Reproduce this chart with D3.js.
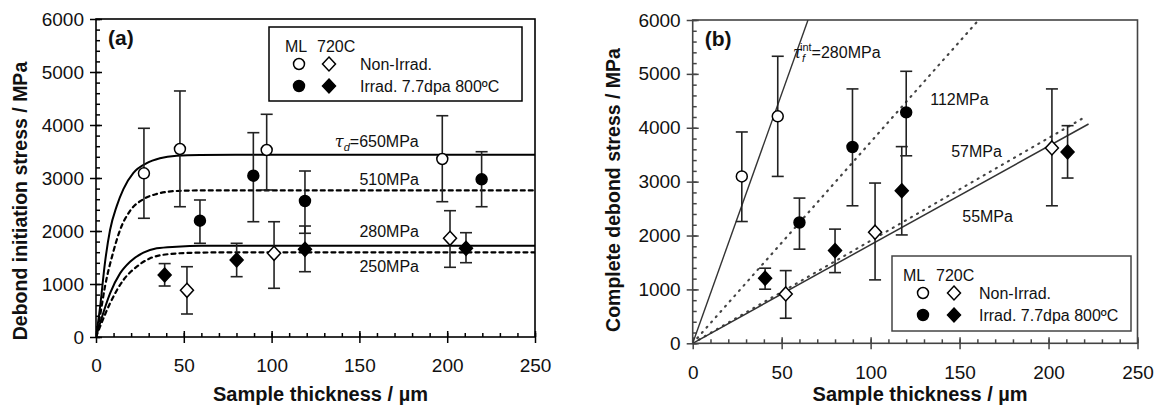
<!DOCTYPE html>
<html>
<head>
<meta charset="utf-8">
<script src="https://cdn.jsdelivr.net/npm/d3@7/dist/d3.min.js"></script>
<style>
body { margin: 0; background: #fff; }
text { font-family: "Liberation Sans", Arial, sans-serif; fill: #111; }
</style>
</head>
<body>
<div id="chart"></div>
<script>
/* two panels: debond initiation stress (a) and complete debond stress (b) vs sample thickness */

// data points: [thickness, stress, error low, error high]
var aNonIrradCircle = [[27.3, 3089, 2240, 3938], [47.8, 3547, 2458, 4642], [97.2, 3528, 2774, 4202], [197.2, 3358, 2553, 4175]];
var aIrradCircle = [[59.2, 2195, 1768, 2585], [89.6, 3043, 2175, 3855], [119, 2566, 1957, 3132], [219.6, 2975, 2458, 3496]];
var aNonIrradDiamond = [[51.8, 880, 434, 1326], [101.4, 1579, 919, 2175], [201.6, 1862, 1315, 2383]];
var aIrradDiamond = [[39.1, 1170, 962, 1385], [80.1, 1453, 1138, 1768], [119, 1655, 1232, 2094], [210.7, 1674, 1402, 1968]];

// model curves of panel (a): [thickness, stress]
var curve650 = [[0, 0], [2.3, 560], [5.1, 1400], [8, 2019], [11.8, 2470], [15.6, 2790], [21.3, 3095], [28.9, 3280], [36.4, 3372], [45.9, 3420], [59.2, 3435], [80, 3438], [250, 3438]];
var curve510 = [[0, 0], [2.3, 400], [5.1, 950], [9.8, 1600], [13.7, 2019], [19.4, 2380], [27, 2600], [34.6, 2700], [45.9, 2755], [60, 2765], [250, 2765]];
var curve280 = [[0, 0], [2.3, 258], [8, 825], [13.7, 1201], [19.4, 1421], [27, 1591], [34.6, 1673], [45.9, 1704], [60, 1720], [250, 1723]];
var curve250 = [[0, 0], [2.3, 195], [8, 636], [15.6, 1075], [23.2, 1327], [30.8, 1485], [42.2, 1566], [57.4, 1591], [80, 1598], [250, 1598]];

var bNonIrradCircle = [[27.6, 3097, 2260, 3922], [47.8, 4212, 3097, 5327]];
var bIrradCircle = [[60, 2242, 1747, 2695], [89.8, 3643, 2552, 4721], [120, 4286, 3480, 5048]];
var bNonIrradDiamond = [[52.3, 916, 465, 1349], [102.5, 2063, 1177, 2974], [201.9, 3625, 2552, 4721]];
var bIrradDiamond = [[40.7, 1208, 1004, 1394], [80, 1721, 1312, 2119], [117.5, 2831, 2011, 3650], [210.7, 3550, 3067, 4039]];

// straight fits of panel (b), from the origin
var line280 = [[0, 0], [64.8, 6000]];
var line112 = [[0, 0], [160.7, 6000]];
var line57 = [[0, 0], [220.8, 4206]];
var line55 = [[0, 0], [222.5, 4070]];

var xTicks = [0, 50, 100, 150, 200, 250];
var yTicks = [0, 1000, 2000, 3000, 4000, 5000, 6000];
var xMinor = d3.range(0, 251, 10);
var yMinor = d3.range(0, 6001, 200);

var svg = d3.select("#chart")
    .append("svg")
    .attr("width", 1161)
    .attr("height", 414);

function drawPanel(p) {
    var x = d3.scaleLinear().domain([0, 250]).range([p.left, p.right]);
    var y = d3.scaleLinear().domain([0, 6000]).range([p.bottom, p.top]);
    var g = svg.append("g");

    // minor ticks (inside)
    g.append("g")
        .attr("transform", "translate(0," + p.bottom + ")")
        .call(d3.axisBottom(x).tickValues(xMinor).tickSize(-4).tickFormat(""))
        .call(s => s.select(".domain").remove());
    g.append("g")
        .attr("transform", "translate(" + p.left + ",0)")
        .call(d3.axisLeft(y).tickValues(yMinor).tickSize(-4).tickFormat(""))
        .call(s => s.select(".domain").remove());
    // major ticks, inner half
    g.append("g")
        .attr("transform", "translate(0," + p.bottom + ")")
        .call(d3.axisBottom(x).tickValues(xTicks).tickSize(-6).tickFormat(""))
        .call(s => s.select(".domain").remove());
    g.append("g")
        .attr("transform", "translate(" + p.left + ",0)")
        .call(d3.axisLeft(y).tickValues(yTicks).tickSize(-6).tickFormat(""))
        .call(s => s.select(".domain").remove());
    // major ticks, outer half with labels
    var xa = g.append("g")
        .attr("transform", "translate(0," + p.bottom + ")")
        .call(d3.axisBottom(x).tickValues(xTicks).tickSize(6).tickPadding(16).tickFormat(d3.format("d")));
    var ya = g.append("g")
        .attr("transform", "translate(" + p.left + ",0)")
        .call(d3.axisLeft(y).tickValues(yTicks).tickSize(6).tickPadding(6).tickFormat(d3.format("d")));
    [xa, ya].forEach(function (a) {
        a.select(".domain").remove();
        a.selectAll("text").attr("font-size", 19).attr("font-family", "Liberation Sans, Arial, sans-serif").attr("fill", "#111");
    });
    g.selectAll(".tick line").attr("stroke", p.frame).attr("stroke-width", 1.5);

    // frame
    g.append("rect")
        .attr("x", p.left).attr("y", p.top)
        .attr("width", p.right - p.left).attr("height", p.bottom - p.top)
        .attr("fill", "none").attr("stroke", p.frame).attr("stroke-width", 1.6);

    // fitted curves / lines
    var clipId = "clip" + p.name;
    svg.append("clipPath").attr("id", clipId)
        .append("rect")
        .attr("x", p.left).attr("y", p.top)
        .attr("width", p.right - p.left).attr("height", p.bottom - p.top);
    var line = d3.line()
        .x(d => x(d[0]))
        .y(d => y(d[1]))
        .curve(d3.curveMonotoneX);
    p.curves.forEach(function (c) {
        g.append("path")
            .attr("clip-path", "url(#" + clipId + ")")
            .attr("d", line(c.data))
            .attr("fill", "none")
            .attr("stroke", c.color)
            .attr("stroke-width", c.width)
            .attr("stroke-dasharray", c.dash)
            .attr("stroke-linecap", c.dash ? "round" : "butt");
    });

    // error bars then markers
    p.series.forEach(function (s) {
        var eb = g.append("g").selectAll("g").data(s.data).join("g")
            .attr("stroke", "#222").attr("stroke-width", 1.6);
        eb.append("line")
            .attr("x1", d => x(d[0])).attr("x2", d => x(d[0]))
            .attr("y1", d => y(d[2])).attr("y2", d => y(d[3]));
        eb.append("line")
            .attr("x1", d => x(d[0]) - 6).attr("x2", d => x(d[0]) + 6)
            .attr("y1", d => y(d[2])).attr("y2", d => y(d[2]));
        eb.append("line")
            .attr("x1", d => x(d[0]) - 6).attr("x2", d => x(d[0]) + 6)
            .attr("y1", d => y(d[3])).attr("y2", d => y(d[3]));
    });
    p.series.forEach(function (s) {
        g.append("g").selectAll("path").data(s.data).join("path")
            .attr("transform", d => "translate(" + x(d[0]) + "," + y(d[1]) + ")")
            .attr("d", markerPath(s.shape))
            .attr("fill", s.filled ? "#000" : "#fff")
            .attr("stroke", "#000")
            .attr("stroke-width", 1.5);
    });

    // curve annotations
    p.notes.forEach(function (n) {
        var t = g.append("text")
            .attr("x", x(n.x)).attr("y", y(n.y))
            .attr("font-size", 16);
        if (n.sym) {
            t.append("tspan").attr("font-style", "italic").attr("font-family", "DejaVu Serif, serif").attr("font-size", 16).text("τ");
            t.append("tspan").attr("font-style", "italic").attr("font-size", 11).attr("dy", 4).text(n.sub);
            if (n.sup) {
                t.append("tspan").attr("font-size", 11).attr("dx", -5).attr("dy", -11).text(n.sup);
                t.append("tspan").attr("dy", 7).text(n.text);
            } else {
                t.append("tspan").attr("dy", -4).text(n.text);
            }
        } else {
            t.text(n.text);
        }
    });

    // legend
    var L = p.legend;
    var lg = g.append("g");
    lg.append("rect")
        .attr("x", L.x).attr("y", L.y).attr("width", L.w).attr("height", L.h)
        .attr("fill", "#fff").attr("stroke", p.frame).attr("stroke-width", 1.5);
    lg.append("text").attr("x", L.mlX).attr("y", L.y + 25).attr("font-size", 16).text("ML");
    lg.append("text").attr("x", L.cX).attr("y", L.y + 25).attr("font-size", 16).text("720C");
    [["circle", false, L.c1, L.row1], ["diamond", false, L.c2, L.row1],
     ["circle", true, L.c1, L.row2], ["diamond", true, L.c2, L.row2]].forEach(function (m) {
        lg.append("path")
            .attr("transform", "translate(" + m[2] + "," + (L.y + m[3]) + ")")
            .attr("d", markerPath(m[0]))
            .attr("fill", m[1] ? "#000" : "#fff")
            .attr("stroke", "#000").attr("stroke-width", 1.5);
    });
    lg.append("text").attr("x", L.tX).attr("y", L.y + L.row1 + 6).attr("font-size", 16).text("Non-Irrad.");
    lg.append("text").attr("x", L.tX).attr("y", L.y + L.row2 + 6).attr("font-size", 16).text("Irrad. 7.7dpa 800ºC");

    // panel letter
    g.append("text").attr("x", p.left + 12).attr("y", p.top + 26)
        .attr("font-size", 21).attr("font-weight", "bold").text(p.letter);

    // axis titles
    g.append("text")
        .attr("x", (p.left + p.right) / 2 + 5).attr("y", 401)
        .attr("text-anchor", "middle").attr("font-size", 20).attr("font-weight", "bold")
        .text("Sample thickness / µm");
    g.append("text")
        .attr("transform", "translate(" + p.yTitleX + "," + p.yTitleY + ") rotate(-90)")
        .attr("text-anchor", "middle").attr("font-size", 19.5).attr("font-weight", "bold")
        .text(p.yTitle);
}

function markerPath(shape) {
    if (shape === "circle") return d3.symbol().type(d3.symbolCircle).size(Math.PI * 30)();
    return "M0,-7L6.5,0L0,7L-6.5,0Z";
}

drawPanel({
    name: "a", letter: "(a)", frame: "#000",
    left: 96, right: 535, top: 19, bottom: 337,
    yTitle: "Debond initiation stress / MPa", yTitleX: 27, yTitleY: 201,
    curves: [
        {data: curve650, color: "#000", width: 2, dash: null},
        {data: curve510, color: "#000", width: 2.2, dash: "4,4"},
        {data: curve280, color: "#000", width: 2, dash: null},
        {data: curve250, color: "#000", width: 2.2, dash: "4,4"}
    ],
    series: [
        {data: aNonIrradCircle, shape: "circle", filled: false},
        {data: aIrradCircle, shape: "circle", filled: true},
        {data: aNonIrradDiamond, shape: "diamond", filled: false},
        {data: aIrradDiamond, shape: "diamond", filled: true}
    ],
    notes: [
        {x: 136, y: 3585, sym: true, sub: "d", text: "=650MPa"},
        {x: 150, y: 2868, text: "510MPa"},
        {x: 150, y: 1887, text: "280MPa"},
        {x: 150, y: 1226, text: "250MPa"}
    ],
    legend: {x: 269, y: 27, w: 253, h: 74, mlX: 285, cX: 317, c1: 299, c2: 329, tX: 360, row1: 37, row2: 59}
});

drawPanel({
    name: "b", letter: "(b)", frame: "#444",
    left: 692.7, right: 1137.5, top: 20, bottom: 343.3,
    yTitle: "Complete debond stress / MPa", yTitleX: 620, yTitleY: 190,
    curves: [
        {data: line280, color: "#333", width: 1.4, dash: null},
        {data: line112, color: "#444", width: 2.2, dash: "1,6"},
        {data: line57, color: "#444", width: 2.2, dash: "1,6"},
        {data: line55, color: "#333", width: 1.5, dash: null}
    ],
    series: [
        {data: bNonIrradCircle, shape: "circle", filled: false},
        {data: bIrradCircle, shape: "circle", filled: true},
        {data: bNonIrradDiamond, shape: "diamond", filled: false},
        {data: bIrradDiamond, shape: "diamond", filled: true}
    ],
    notes: [
        {x: 56.4, y: 5303, sym: true, sub: "f", sup: "int", text: "=280MPa"},
        {x: 133.5, y: 4428, text: "112MPa"},
        {x: 145.3, y: 3463, text: "57MPa"},
        {x: 151.5, y: 2255, text: "55MPa"}
    ],
    legend: {x: 892, y: 256, w: 239, h: 75, mlX: 903, cX: 936, c1: 923, c2: 954, tX: 979, row1: 37, row2: 59}
});
</script>
</body>
</html>
